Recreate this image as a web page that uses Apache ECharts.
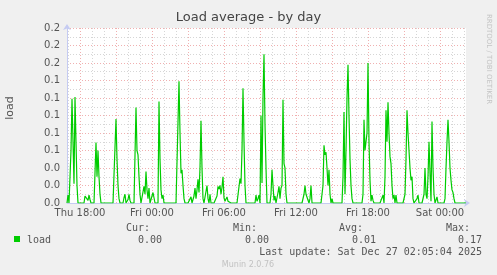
<!DOCTYPE html>
<html>
<head>
<meta charset="utf-8">
<script src="https://cdn.jsdelivr.net/npm/echarts@6/dist/echarts.min.js"></script>
<style>
html,body{margin:0;padding:0;background:#f0f0f0;}
#c{width:497px;height:275px;}
</style>
</head>
<body>
<div id="c"></div>
<script>
// ---- data ----
const titleText = 'Load average - by day';
const yAxisName = 'load';
const seriesName = 'load';
const dayNames = ['Thu', 'Fri', 'Sat'];
const startMinute = 16 * 60 + 55;   // Thu 16:55, 5-minute samples
const stepMinutes = 5;
const yTicks = [0, 0.02, 0.04, 0.06, 0.08, 0.10, 0.12, 0.14, 0.16, 0.18, 0.20];
const statHeaders = ['Cur:', 'Min:', 'Avg:', 'Max:'];
const statValues = ['0.00', '0.00', '0.01', '0.17'];
const lastUpdate = 'Last update: Sat Dec 27 02:05:04 2025';
const footer = 'Munin 2.0.76';
const sideText = 'RRDTOOL / TOBI OETIKER';
const loadValues = [
  0,0.009,0,0,0.06,0.119,0.07,0.022,0.121,0.07,0.02,0,0,0,0,0,0,0,0.008,0.01,
  0.009,0.003,0.009,0.004,0,0,0,0,0,0.069,0.03,0.06,0.03,0.01,0,0,0,0,0,0,
  0,0,0,0,0,0,0,0,0,0.096,0.05,0.02,0.005,0,0,0,0,0.006,0.01,0,
  0,0.004,0.01,0.003,0,0,0,0,0,0.109,0.06,0.055,0.03,0.01,0,0,0,0.019,0.01,0.036,
  0.015,0.005,0.017,0,0,0,0.012,0.013,0,0,0,0,0.116,0.05,0.015,0.005,0.009,0,0,0,
  0,0,0,0,0,0,0,0,0,0,0,0,0.139,0.08,0.034,0.038,0.02,0.005,0,0,
  0,0,0,0,0.007,0,0,0.008,0.017,0.005,0.015,0.027,0.012,0.04,0.094,0.04,0.005,0,0,0,
  0.02,0.005,0,0.01,0,0,0,0,0,0,0.008,0.019,0.016,0.02,0.01,0.018,0.03,0.006,0.002,0,
  0.007,0.002,0,0,0,0,0,0,0,0,0,0,0,0.028,0.022,0.06,0.131,0.07,0.02,0,
  0,0,0,0,0,0,0,0,0,0.009,0.002,0.005,0.009,0,0.1,0.023,0.12,0.17,0.09,0.04,
  0,0,0,0,0.01,0.038,0.02,0.003,0.008,0,0.006,0.012,0.019,0.005,0.017,0.02,0.118,0.045,0.04,0.01,
  0,0,0,0,0,0,0,0,0,0,0,0,0,0,0,0,0,0.01,0.02,0.01,
  0.01,0.01,0,0.005,0.02,0,0,0,0,0,0,0,0,0,0,0,0.02,0.066,0.055,0.058,
  0.04,0.02,0.038,0.01,0,0.005,0,0,0,0,0,0,0,0,0,0,0.03,0.104,0.01,0.06,
  0.12,0.158,0.1,0.05,0.02,0.005,0,0,0,0,0,0,0,0,0,0,0.01,0.095,0.06,0.06,
  0.08,0.16,0.07,0.026,0.002,0.009,0.003,0,0,0,0,0,0,0,0,0,0.009,0,0.03,0.106,
  0.07,0.115,0.08,0.053,0.045,0.02,0.005,0.009,0,0.009,0,0,0,0,0,0,0,0,0.01,0.05,
  0.106,0.08,0.06,0.04,0.026,0.03,0.005,0,0,0,0.005,0.009,0,0,0,0,0,0.01,0.04,0.01,
  0.005,0.03,0.07,0.035,0.002,0.093,0.04,0.01,0,0,0.007,0,0,0,0,0,0,0,0.005,0.04,
  0.07,0.095,0.07,0.04,0.026,0.015,0.012,0.005,0,0,0,0,0,0,0,0,0,0,0,0
];

// ---- build categories ----
const cats = loadValues.map((v, i) => {
  const t = startMinute + i * stepMinutes;
  const d = Math.floor(t / 1440);
  const m = t % 1440;
  const hh = Math.floor(m / 60), mm = m % 60;
  return dayNames[d] + ' ' + String(hh).padStart(2, '0') + ':' + String(mm).padStart(2, '0');
});
function minOf(i){ return (startMinute + i * stepMinutes) % 1440; }
const isHour = i => minOf(i) % 60 === 0;
const isMajor = i => minOf(i) % 180 === 0;
const isLabel = i => minOf(i) % 360 === 0;

const FONT = 'DejaVu Sans';
const MONO = 'DejaVu Sans Mono';
const TXT = '#555';
const AXIS = '#c5cbf2';
const MAJOR = '#f0b0b0';
const MINOR = '#d6d6d6';

const chart = echarts.init(document.getElementById('c'), null, {renderer: 'canvas'});

const graphics = [
  {type: 'text', x: 248.5, y: 18, style: {text: titleText, font: '13px "' + FONT + '"', fill: '#444', align: 'center', verticalAlign: 'middle'}},
  {type: 'text', x: 10, y: 108, rotation: Math.PI / 2, style: {text: yAxisName, font: '11px "' + FONT + '"', fill: TXT, align: 'center', verticalAlign: 'middle'}},
  {type: 'text', x: 489, y: 59, rotation: -Math.PI / 2, style: {text: sideText, font: '7px "' + FONT + '"', fill: '#c4c4c4', align: 'center', verticalAlign: 'middle'}},
  {type: 'rect', shape: {x: 14, y: 236, width: 6, height: 6}, style: {fill: '#00cc00'}},
  {type: 'text', x: 27, y: 240, style: {text: seriesName, font: '10px "' + MONO + '"', fill: TXT, align: 'left', verticalAlign: 'middle'}},
  {type: 'text', x: 482, y: 252, style: {text: lastUpdate, font: '10px "' + MONO + '"', fill: TXT, align: 'right', verticalAlign: 'middle'}},
  {type: 'text', x: 248, y: 265, style: {text: footer, font: '8px "' + FONT + '"', fill: '#c2c2c2', align: 'center', verticalAlign: 'middle'}}
];
const headerRight = [150, 257, 363, 470];
const valueRight = [162, 269, 376, 482];
statHeaders.forEach((h, k) => {
  graphics.push({type: 'text', x: headerRight[k], y: 228, style: {text: h, font: '10px "' + MONO + '"', fill: TXT, align: 'right', verticalAlign: 'middle'}});
  graphics.push({type: 'text', x: valueRight[k], y: 240, style: {text: statValues[k], font: '10px "' + MONO + '"', fill: TXT, align: 'right', verticalAlign: 'middle'}});
});

chart.setOption({
  backgroundColor: '#f0f0f0',
  animation: false,
  grid: {left: 67, right: 31, top: 28, bottom: 72, show: true, backgroundColor: '#ffffff', borderWidth: 0},
  xAxis: [{
    type: 'category', data: cats, boundaryGap: false,
    axisLine: {show: true, lineStyle: {color: AXIS, width: 1}, symbol: ['none', 'arrow'], symbolSize: [6, 6], symbolOffset: [0, 4]},
    axisTick: {show: false},
    axisLabel: {interval: (i) => isLabel(i), formatter: v => v, color: TXT, fontSize: 10, fontFamily: FONT, margin: 5},
    splitLine: {show: true, interval: (i) => isMajor(i), lineStyle: {color: MAJOR, type: [1, 2], width: 1}},
    z: 3
  }, {
    type: 'category', data: cats, boundaryGap: false, position: 'bottom',
    axisLine: {show: false}, axisTick: {show: false}, axisLabel: {show: false},
    splitLine: {show: true, interval: (i) => isHour(i) && !isMajor(i), lineStyle: {color: MINOR, type: [1, 2], width: 1}}
  }],
  yAxis: {
    type: 'value', min: yTicks[0], max: yTicks[yTicks.length - 1], interval: yTicks[1] - yTicks[0],
    axisLine: {show: true, lineStyle: {color: AXIS, width: 1}, symbol: ['none', 'arrow'], symbolSize: [6, 6], symbolOffset: [0, 4]},
    axisTick: {show: false},
    axisLabel: {formatter: v => v.toFixed(1), color: TXT, fontSize: 10, fontFamily: FONT, margin: 7},
    splitLine: {show: true, lineStyle: {color: MAJOR, type: [1, 2], width: 1}},
    minorTick: {show: false, splitNumber: 2},
    minorSplitLine: {show: true, lineStyle: {color: MINOR, type: [1, 2], width: 1}}
  },
  series: [{
    name: seriesName, type: 'line', data: loadValues, xAxisIndex: 0,
    showSymbol: false, symbol: 'none',
    lineStyle: {color: '#00cc00', width: 1.2},
    z: 4
  }],
  graphic: graphics
});
</script>
</body>
</html>
